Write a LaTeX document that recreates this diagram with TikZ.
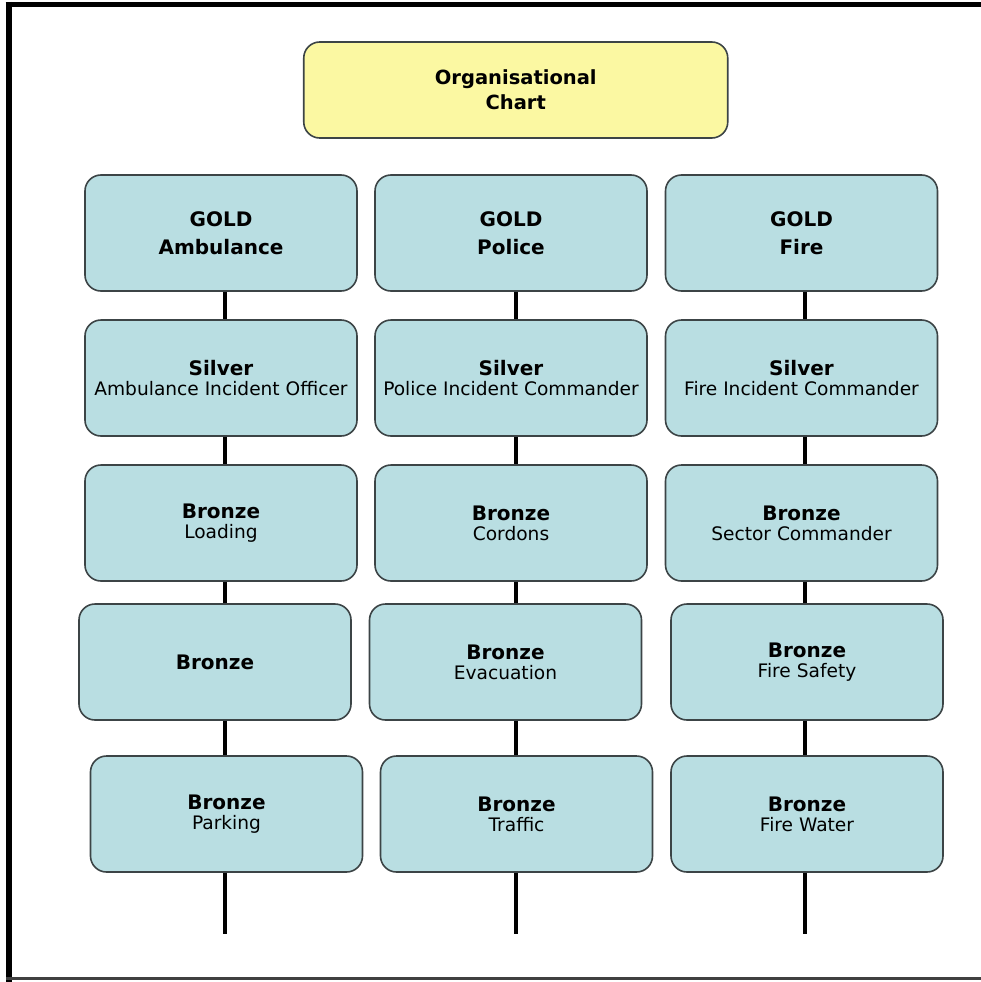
\documentclass[tikz,border=0pt]{standalone}
\usepackage{fontspec}
\setmainfont{DejaVu Sans}
\definecolor{boxblue}{HTML}{B9DEE2}
\definecolor{boxyellow}{HTML}{FBF8A2}
\definecolor{edgegray}{HTML}{3C4446}
\newcommand{\ttl}{\fontsize{20}{28}\selectfont\bfseries}
\newcommand{\sub}{\fontsize{18.6}{21}\selectfont}
\tikzset{
  orgbox/.style={draw=edgegray, fill=boxblue, rounded corners=16pt,
    minimum width=272pt, minimum height=116pt, line width=1.6pt,
    align=center, inner sep=0pt},
  topbox/.style={orgbox, fill=boxyellow, minimum width=424pt, minimum height=96pt},
  link/.style={line width=4.5pt, black}
}
\begin{document}
\begin{tikzpicture}[x=1pt,y=-1pt]
\useasboundingbox (0,0) rectangle (981,982);
% frame
\draw[line width=5pt] (5.5,4.5) -- (981,4.5);
\draw[line width=6pt] (8.5,2) -- (8.5,982);
\draw[line width=3pt, black!75] (6,978.5) -- (981,978.5);

% column line positions
\coordinate (c1) at (225,0);
\coordinate (c2) at (516,0);
\coordinate (c3) at (805,0);

\node[topbox, font=\fontsize{19.5}{25}\selectfont\bfseries] (top) at (515.75,90) {Organisational\\Chart};

% row 1
\node[orgbox, font=\ttl] (g1) at (221,233) {GOLD\\Ambulance};
\node[orgbox, font=\ttl] (g2) at (511,233) {GOLD\\Police};
\node[orgbox, font=\ttl] (g3) at (801.5,233) {GOLD\\Fire};
% row 2
\node[orgbox, font=\sub] (s1) at (221,378) {{\ttl Silver}\\[-1pt]Ambulance Incident Officer};
\node[orgbox, font=\sub] (s2) at (511,378) {{\ttl Silver}\\[-1pt]Police Incident Commander};
\node[orgbox, font=\sub] (s3) at (801.5,378) {{\ttl Silver}\\[-1pt]Fire Incident Commander};
% row 3
\node[orgbox, font=\sub] (b1) at (221,523) {{\ttl Bronze}\\[-1pt]Loading};
\node[orgbox, font=\sub] (b2) at (511,523) {{\ttl Bronze}\\[-1pt]Cordons};
\node[orgbox, font=\sub] (b3) at (801.5,523) {{\ttl Bronze}\\[-1pt]Sector Commander};
% row 4
\node[orgbox, font=\ttl] (d1) at (215,662) {Bronze};
\node[orgbox, font=\sub] (d2) at (505.5,662) {{\ttl Bronze}\\[-1pt]Evacuation};
\node[orgbox, font=\sub] (d3) at (807,662) {{\ttl Bronze}\\[-1pt]Fire Safety};
% row 5
\node[orgbox, font=\sub] (e1) at (226.5,814) {{\ttl Bronze}\\[-1pt]Parking};
\node[orgbox, font=\sub] (e2) at (516.5,814) {{\ttl Bronze}\\[-1pt]Traffic};
\node[orgbox, font=\sub] (e3) at (807,814) {{\ttl Bronze}\\[-1pt]Fire Water};

% free ends
\coordinate (z1) at (225,934);
\coordinate (z2) at (516,934);
\coordinate (z3) at (805,934);

% connectors
\foreach \a/\b/\c in {g1/s1/c1,s1/b1/c1,b1/d1/c1,d1/e1/c1,
                      g2/s2/c2,s2/b2/c2,b2/d2/c2,d2/e2/c2,
                      g3/s3/c3,s3/b3/c3,b3/d3/c3,d3/e3/c3}
  \draw[link] (\a.south -| \c) -- (\b.north -| \c);
\draw[link] (e1.south -| c1) -- (z1);
\draw[link] (e2.south -| c2) -- (z2);
\draw[link] (e3.south -| c3) -- (z3);
\end{tikzpicture}
\end{document}
